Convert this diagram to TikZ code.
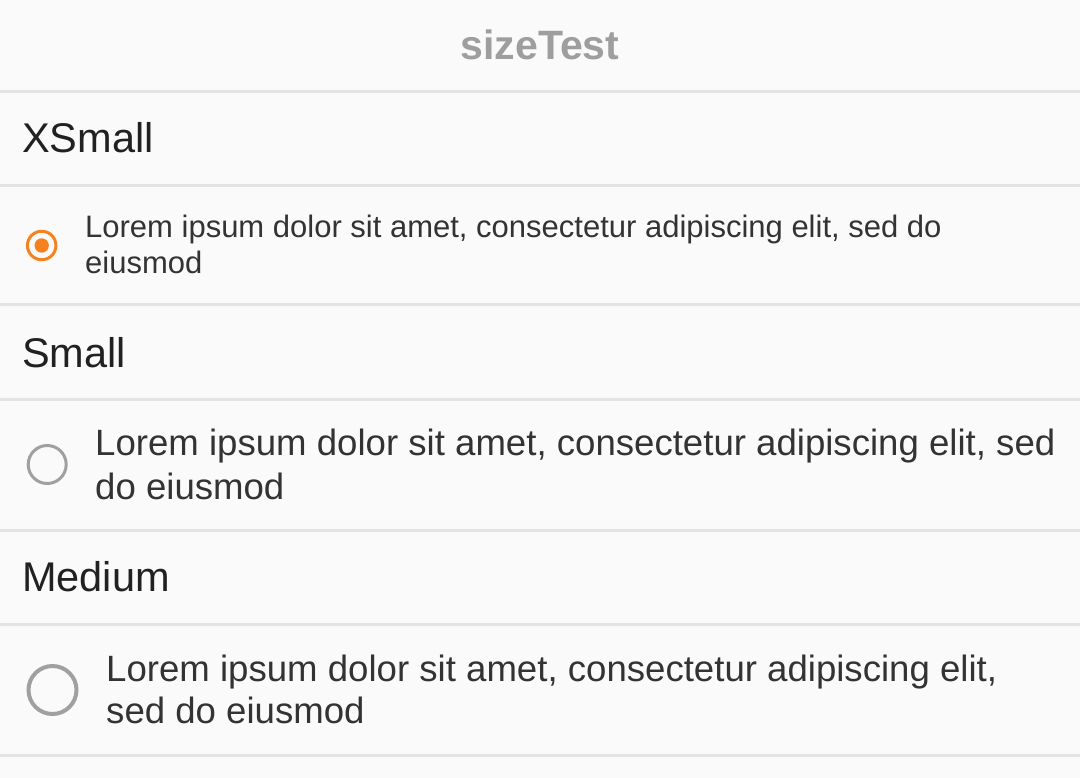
\documentclass[tikz,border=0pt]{standalone}
\usepackage{fontspec}
\setmainfont{Liberation Sans}
\definecolor{bg}{HTML}{FAFAFA}
\definecolor{sepc}{HTML}{E3E3E3}
\definecolor{titlec}{HTML}{9E9E9E}
\definecolor{headc}{HTML}{212121}
\definecolor{bodyc}{HTML}{333333}
\definecolor{radioon}{HTML}{F5821F}
\definecolor{radiooff}{HTML}{A0A0A0}
\tikzset{
  sepline/.style={draw=sepc, line width=3pt},
  titletxt/.style={anchor=base, inner sep=0pt, text=titlec, font=\fontsize{41}{48}\selectfont\bfseries},
  headtxt/.style={anchor=base west, inner sep=0pt, text=headc, font=\fontsize{41.5}{46}\selectfont},
  xstxt/.style={anchor=base west, inner sep=0pt, text=bodyc, font=\fontsize{31}{36}\selectfont},
  smtxt/.style={anchor=base west, inner sep=0pt, text=bodyc, font=\fontsize{36.6}{42}\selectfont},
}
\begin{document}
\begin{tikzpicture}[x=1pt,y=-1pt]
\fill[bg] (0,0) rectangle (1080,778);
\useasboundingbox (0,0) rectangle (1080,778);
% separators
\foreach \yy in {92,186,305,399,530,624,755}
  \draw[sepline] (0,\yy) -- (1080,\yy);
% title
\node[titletxt] (title) at (540,60) {sizeTest};
% headings
\node[headtxt] (hxs) at (22,153) {XSmall};
\node[headtxt] (hs) at (22,367) {Small};
\node[headtxt] (hm) at (22,591) {Medium};
% XSmall radio (selected)
\node[circle, draw=radioon, line width=3pt, minimum size=28.5pt, inner sep=0pt] (rxs) at (41.7,245.5) {};
\node[circle, fill=radioon, minimum size=14.4pt, inner sep=0pt] (rxsdot) at (rxs.center) {};
\node[xstxt] (txs1) at (85,238) {Lorem ipsum dolor sit amet, consectetur adipiscing elit, sed do};
\node[xstxt] (txs2) at (85,274) {eiusmod};
% Small radio
\node[circle, draw=radiooff, line width=3pt, minimum size=38pt, inner sep=0pt] (rs) at (47.2,464.5) {};
\node[smtxt] (ts1) at (95,455) {Lorem ipsum dolor sit amet, consectetur adipiscing elit, sed};
\node[smtxt] (ts2) at (95,499) {do eiusmod};
% Medium radio
\node[circle, draw=radiooff, line width=4pt, minimum size=48pt, inner sep=0pt] (rm) at (52.5,690) {};
\node[smtxt] (tm1) at (106,681) {Lorem ipsum dolor sit amet, consectetur adipiscing elit,};
\node[smtxt] (tm2) at (106,723) {sed do eiusmod};
\end{tikzpicture}
\end{document}
